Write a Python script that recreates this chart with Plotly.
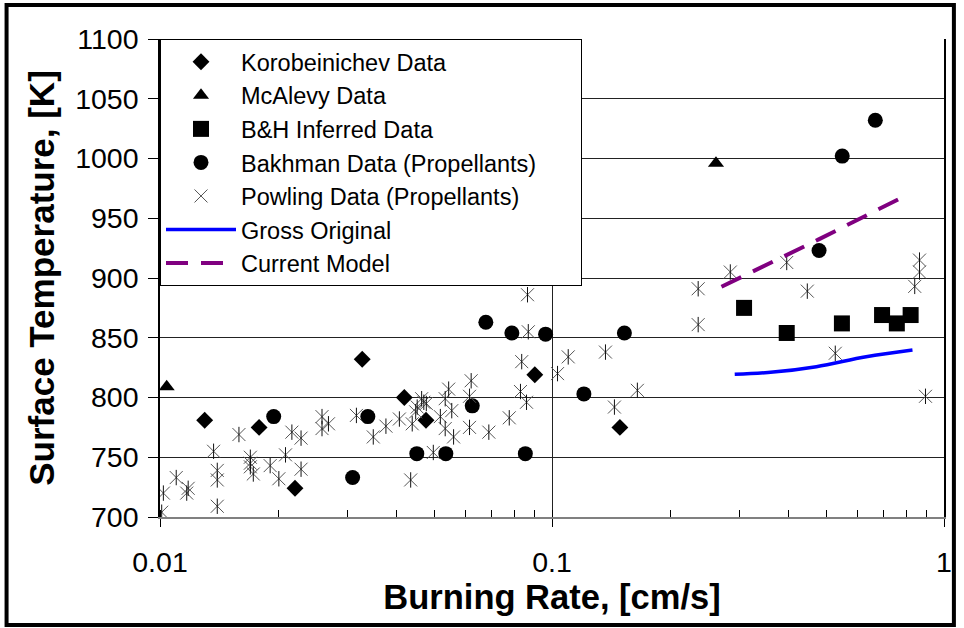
import plotly.graph_objects as go

# ---------------- data ----------------
koro_x = [0.0130, 0.0179, 0.0221, 0.0328, 0.0420, 0.0477, 0.0904, 0.149]
koro_y = [781, 775, 724, 832, 800, 781, 819, 775]

mcalevy_x = [0.0104, 0.262]
mcalevy_y = [809, 996]

bh_x = [0.309, 0.397, 0.549, 0.695, 0.758, 0.822]
bh_y = [875, 854, 862, 869, 862, 869]

bakh_x = [0.0195, 0.0310, 0.0339, 0.0452, 0.0484, 0.0536, 0.0626, 0.0678,
          0.0790, 0.0855, 0.0963, 0.1206, 0.153, 0.480, 0.550, 0.668]
bakh_y = [784, 733, 784, 753, 903, 753, 793, 863,
          854, 753, 853, 803, 854, 923, 1002, 1032]

powl_x = [0.0101, 0.0102, 0.0110, 0.0117, 0.0118, 0.0137, 0.0140, 0.0140, 0.0140,
          0.0159, 0.0170, 0.0170, 0.0170, 0.0173, 0.0191, 0.0201, 0.0209, 0.0217,
          0.0229, 0.0229, 0.0259, 0.0259, 0.0269, 0.0317, 0.0350, 0.0377, 0.0408,
          0.0436, 0.0440, 0.0449, 0.0453, 0.0465, 0.0471, 0.0478, 0.0498, 0.0519,
          0.0534, 0.0534, 0.0545, 0.0555, 0.0561, 0.0616, 0.0616, 0.0622, 0.0690,
          0.0778, 0.0831, 0.0837, 0.0861, 0.0866, 0.0870, 0.1033, 0.1100, 0.1369,
          0.1443, 0.1651, 0.236, 0.236, 0.285, 0.397, 0.448, 0.528, 0.842, 0.866,
          0.866, 0.897]
powl_y = [704, 720, 733, 720, 724, 755, 739, 731, 709,
          769, 750, 745, 742, 736, 743, 732, 752, 771,
          766, 740, 784, 774, 778, 785, 767, 776, 782,
          731, 778, 788, 792, 799, 796, 795, 754, 784,
          799, 774, 807, 789, 767, 801, 775, 814, 771,
          783, 805, 830, 796, 886, 855, 820, 834, 838,
          792, 806, 891, 861, 905, 913, 889, 837, 893, 915,
          905, 801]

gross_x = [0.2925, 0.3665, 0.4725, 0.633, 0.831]
gross_y = [819.4, 821.3, 825.8, 834.1, 839.7]

model_x = [0.2706, 0.3974, 0.4805, 0.7823]
model_y = [892.7, 919.5, 932.5, 967.5]

x_tickvals = [0.01, 0.1, 1]
x_ticktext = ["0.01", "0.1", "1"]

FONT = "Liberation Sans, Arial, sans-serif"

# plot-area geometry in pixels (for the outer chart frame)
L, T, W, H = 160, 39, 792, 478

fig = go.Figure()

fig.add_trace(go.Scatter(x=koro_x, y=koro_y, mode="markers", name="Korobeinichev Data",
                         marker=dict(symbol="diamond", size=13, color="black")))
fig.add_trace(go.Scatter(x=mcalevy_x, y=mcalevy_y, mode="markers", name="McAlevy Data",
                         marker=dict(symbol="triangle-up", size=14, color="black")))
fig.add_trace(go.Scatter(x=bh_x, y=bh_y, mode="markers", name="B&H Inferred Data",
                         marker=dict(symbol="square", size=16, color="black")))
fig.add_trace(go.Scatter(x=bakh_x, y=bakh_y, mode="markers", name="Bakhman Data (Propellants)" + "\u00a0" * 6,
                         marker=dict(symbol="circle", size=15, color="black")))
fig.add_trace(go.Scatter(x=powl_x, y=powl_y, mode="markers", name="Powling Data (Propellants)",
                         legendgroup="powling",
                         marker=dict(symbol="x-thin-open", size=13, color="#555555",
                                     line=dict(width=1, color="#555555"))))
fig.add_trace(go.Scatter(x=powl_x, y=powl_y, mode="markers", name="Powling Data (Propellants)",
                         legendgroup="powling", showlegend=False,
                         marker=dict(symbol="line-ns-open", size=11, color="#111111",
                                     line=dict(width=1, color="#111111"))))
fig.add_trace(go.Scatter(x=gross_x, y=gross_y, mode="lines", name="Gross Original",
                         line=dict(color="#0000ff", width=3.5, shape="spline")))
fig.add_trace(go.Scatter(x=model_x, y=model_y, mode="lines", name="Current Model",
                         line=dict(color="#800080", width=4, dash="22px,13px")))

fig.update_layout(
    width=964, height=628,
    margin=dict(l=L, r=964 - L - W, t=T, b=628 - T - H),
    paper_bgcolor="white", plot_bgcolor="white",
    font=dict(family=FONT, color="black"),
    showlegend=True,
    legend=dict(x=0, y=1, xanchor="left", yanchor="top",
                bgcolor="white", bordercolor="black", borderwidth=1,
                font=dict(family=FONT, size=23.5, color="black"),
                itemwidth=70, tracegroupgap=0),
    shapes=[dict(type="rect", xref="paper", yref="paper",
                 x0=(5 - L) / W, x1=(962 - L) / W,
                 y0=(T + H - 625) / H, y1=(T + H - 5) / H,
                 line=dict(color="black", width=4), fillcolor="rgba(0,0,0,0)",
                 layer="below")],
)

fig.update_xaxes(
    type="log", range=[-2, 0],
    tickvals=x_tickvals, ticktext=x_ticktext,
    showgrid=True, gridcolor="#222222", gridwidth=1,
    showline=True, linecolor="#808080", linewidth=2,
    ticks="outside", ticklen=8, tickcolor="black",
    tickfont=dict(family=FONT, size=28.5, color="black"),
    ticklabelstandoff=11,
    minor=dict(ticks="inside", ticklen=7, tickcolor="black", dtick="D1", showgrid=False),
    title=dict(text="<b>Burning Rate, [cm/s]</b>", font=dict(family=FONT, size=34.5, color="black"),
               standoff=5),
    zeroline=False,
)
fig.update_yaxes(
    range=[700, 1100], tick0=700, dtick=50,
    showgrid=True, gridcolor="#222222", gridwidth=1,
    showline=True, linecolor="black", linewidth=1.5, mirror=True,
    ticks="outside", ticklen=10, tickcolor="black",
    tickfont=dict(family=FONT, size=28.5, color="black"),
    ticklabelstandoff=4,
    title=dict(text="<b>Surface Temperature, [K]</b>", font=dict(family=FONT, size=35, color="black"),
               standoff=10),
    zeroline=False,
)

fig.write_html("out.html")
